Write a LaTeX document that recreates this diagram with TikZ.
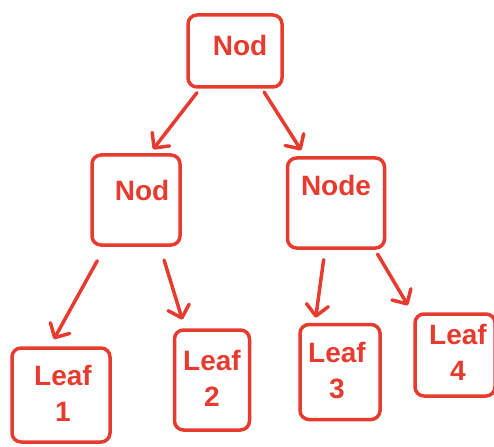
\documentclass[tikz,border=0pt]{standalone}
\usepackage{fontspec}
\setmainfont{Liberation Sans}
\usetikzlibrary{arrows.meta}
\definecolor{pen}{HTML}{E63B2E}
\begin{document}
\begin{tikzpicture}[x=1pt,y=-1pt,
  box/.style={draw=pen,line width=3.5pt,rounded corners=9pt,inner sep=0pt},
  lbl/.style={text=pen,font=\fontsize{28}{36}\selectfont\bfseries,align=center,inner sep=0pt},
  arr/.style={draw=pen,line width=3.5pt,line cap=round,
    -{Straight Barb[length=11pt,width=22pt,line width=3.5pt,round]}}]
\useasboundingbox (0,0) rectangle (494,446);
% boxes
\node[box,minimum width=94pt,minimum height=72pt] (root) at (235,51) {};
\node[box,minimum width=88pt,minimum height=90pt] (m1) at (136,200) {};
\node[box,minimum width=97pt,minimum height=90pt] (m2) at (336,203) {};
\node[box,minimum width=98pt,minimum height=94pt] (l1) at (61,395) {};
\node[box,minimum width=75pt,minimum height=100pt] (l2) at (212,380) {};
\node[box,minimum width=80pt,minimum height=95pt] (l3) at (340,372) {};
\node[box,minimum width=80pt,minimum height=82pt] (l4) at (455,355) {};
% texts
\node[lbl] (troot) at (240,45) {Nod};
\node[lbl] (tm1) at (142,190) {Nod};
\node[lbl] (tm2) at (336,185) {Node};
\node[lbl] (tl1) at (63,393) {Leaf\\1};
\node[lbl] (tl2) at (212,378) {Leaf\\2};
\node[lbl] (tl3) at (337,371) {Leaf\\3};
\node[lbl] (tl4) at (458,352) {Leaf\\4};
% arrows
\draw[arr,shorten <=5pt,shorten >=5pt] ([xshift=-35pt]root.south) -- ([xshift=14pt]m1.north);
\draw[arr,shorten <=4pt,shorten >=7pt] ([xshift=27pt]root.south) -- ([xshift=-31pt]m2.north);
\draw[arr,shorten <=16pt,shorten >=8pt] ([xshift=-31pt]m1.south) -- ([xshift=-11pt]l1.north);
\draw[arr,shorten <=14pt,shorten >=9pt] ([xshift=24pt]m1.south) -- ([xshift=-27pt]l2.north);
\draw[arr,shorten <=10pt,shorten >=5pt] ([xshift=-11pt]m2.south) -- ([xshift=-25pt]l3.north);
\draw[arr,shorten <=5pt,shorten >=8pt] ([xshift=39pt]m2.south) -- ([xshift=-43pt]l4.north);
\end{tikzpicture}
\end{document}
